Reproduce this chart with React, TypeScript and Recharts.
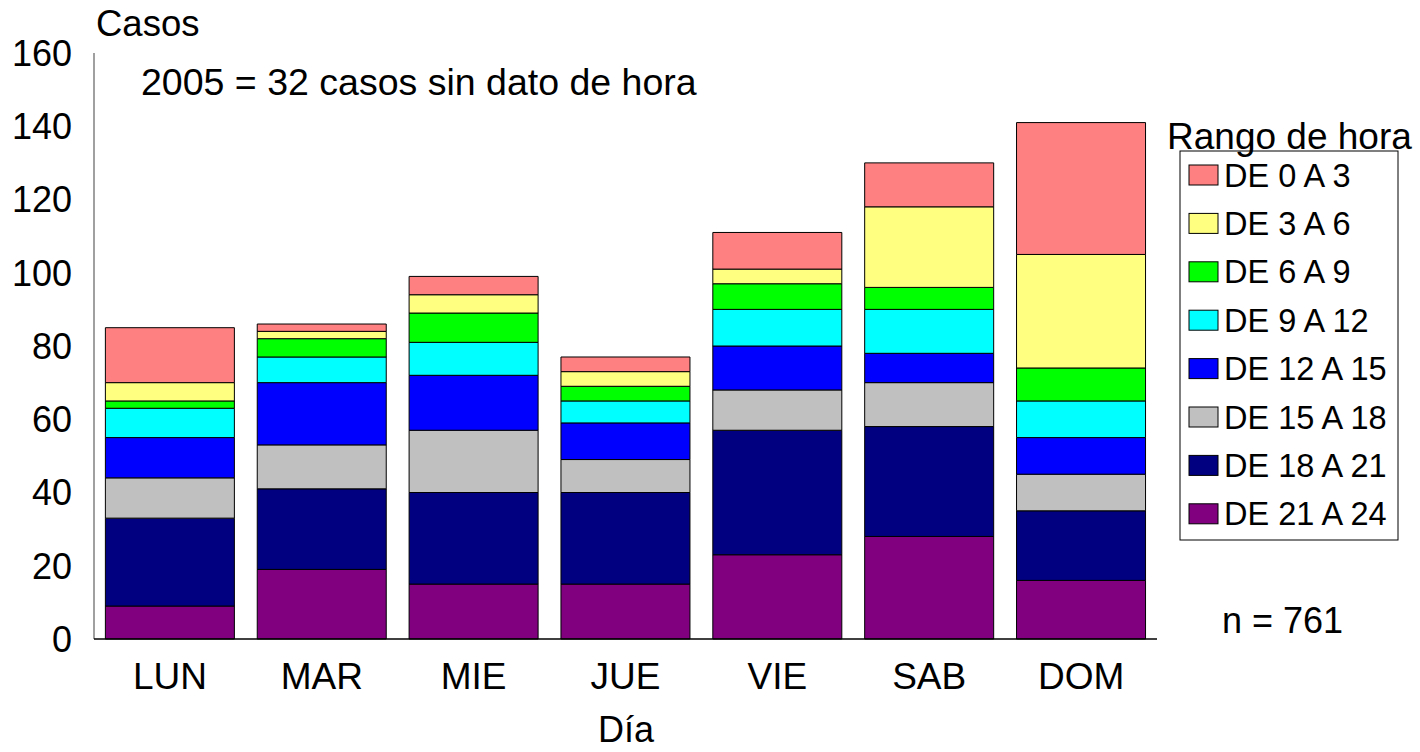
import { BarChart, Bar, XAxis, YAxis } from 'recharts';

const DAYS = ['LUN', 'MAR', 'MIE', 'JUE', 'VIE', 'SAB', 'DOM'];
const Y_TICKS = [0, 20, 40, 60, 80, 100, 120, 140, 160];

// cases per weekday, one array per hour range
const H21_24 = [9, 19, 15, 15, 23, 28, 16];
const H18_21 = [24, 22, 25, 25, 34, 30, 19];
const H15_18 = [11, 12, 17, 9, 11, 12, 10];
const H12_15 = [11, 17, 15, 10, 12, 8, 10];
const H9_12 = [8, 7, 9, 6, 10, 12, 10];
const H6_9 = [2, 5, 8, 4, 7, 6, 9];
const H3_6 = [5, 2, 5, 4, 4, 22, 31];
const H0_3 = [15, 2, 5, 4, 10, 12, 36];

// bottom of the stack first
const SERIES = [
  { key: 'h21', name: 'DE 21 A 24', values: H21_24, color: '#800080' },
  { key: 'h18', name: 'DE 18 A 21', values: H18_21, color: '#000080' },
  { key: 'h15', name: 'DE 15 A 18', values: H15_18, color: '#C0C0C0' },
  { key: 'h12', name: 'DE 12 A 15', values: H12_15, color: '#0000FF' },
  { key: 'h9', name: 'DE 9 A 12', values: H9_12, color: '#00FFFF' },
  { key: 'h6', name: 'DE 6 A 9', values: H6_9, color: '#00FF00' },
  { key: 'h3', name: 'DE 3 A 6', values: H3_6, color: '#FFFF80' },
  { key: 'h0', name: 'DE 0 A 3', values: H0_3, color: '#FF8080' },
];

const FONT = '"Liberation Sans", Arial, sans-serif';

export default function App() {
  const data = DAYS.map((day, i) => {
    const row: Record<string, string | number> = { day };
    SERIES.forEach((s) => (row[s.key] = s.values[i]));
    return row;
  });
  const legendItems = [...SERIES].reverse();

  return (
    <div style={{ position: 'absolute', left: 0, top: 0, width: 1420, height: 752, background: '#fff', fontFamily: FONT }}>
      <BarChart
        width={1420}
        height={752}
        data={data}
        margin={{ top: 53, right: 263, bottom: 53, left: 0 }}
        barCategoryGap="7.5%"
      >
        <YAxis
          width={94}
          domain={[0, 160]}
          ticks={Y_TICKS}
          interval={0}
          tickLine={false}
          tickSize={0}
          tickMargin={22}
          axisLine={{ stroke: '#808080', strokeWidth: 1.5 }}
          tick={{ fontSize: 36, fill: '#000', fontFamily: FONT }}
        />
        <XAxis
          dataKey="day"
          height={60}
          tickLine={false}
          tickSize={0}
          tickMargin={24}
          axisLine={{ stroke: '#000', strokeWidth: 1.5 }}
          tick={{ fontSize: 37, fill: '#000', fontFamily: FONT }}
        />
        {SERIES.map((s) => (
          <Bar
            key={s.key}
            dataKey={s.key}
            name={s.name}
            stackId="a"
            fill={s.color}
            stroke="#000"
            strokeWidth={1}
            isAnimationActive={false}
          />
        ))}
      </BarChart>

      <svg
        width={1420}
        height={752}
        style={{ position: 'absolute', left: 0, top: 0, pointerEvents: 'none', fontFamily: FONT }}
      >
        <text x={96} y={36} fontSize={36.5}>Casos</text>
        <text x={141} y={95} fontSize={37.5}>2005 = 32 casos sin dato de hora</text>
        <text x={1222} y={633} fontSize={36}>n = 761</text>
        <text x={598} y={742} fontSize={36}>Día</text>

        <rect x={1180} y={151} width={218} height={389} fill="#fff" stroke="#000" strokeWidth={1} />
        <text x={1167} y={149} fontSize={37}>Rango de hora</text>
        {legendItems.map((s, i) => {
          const cy = 175 + i * 48.4;
          return (
            <g key={s.key}>
              <rect x={1189} y={cy - 10} width={29} height={20} fill={s.color} stroke="#000" strokeWidth={1} />
              <text x={1224} y={cy + 11.5} fontSize={32.5}>{s.name}</text>
            </g>
          );
        })}
      </svg>
    </div>
  );
}
